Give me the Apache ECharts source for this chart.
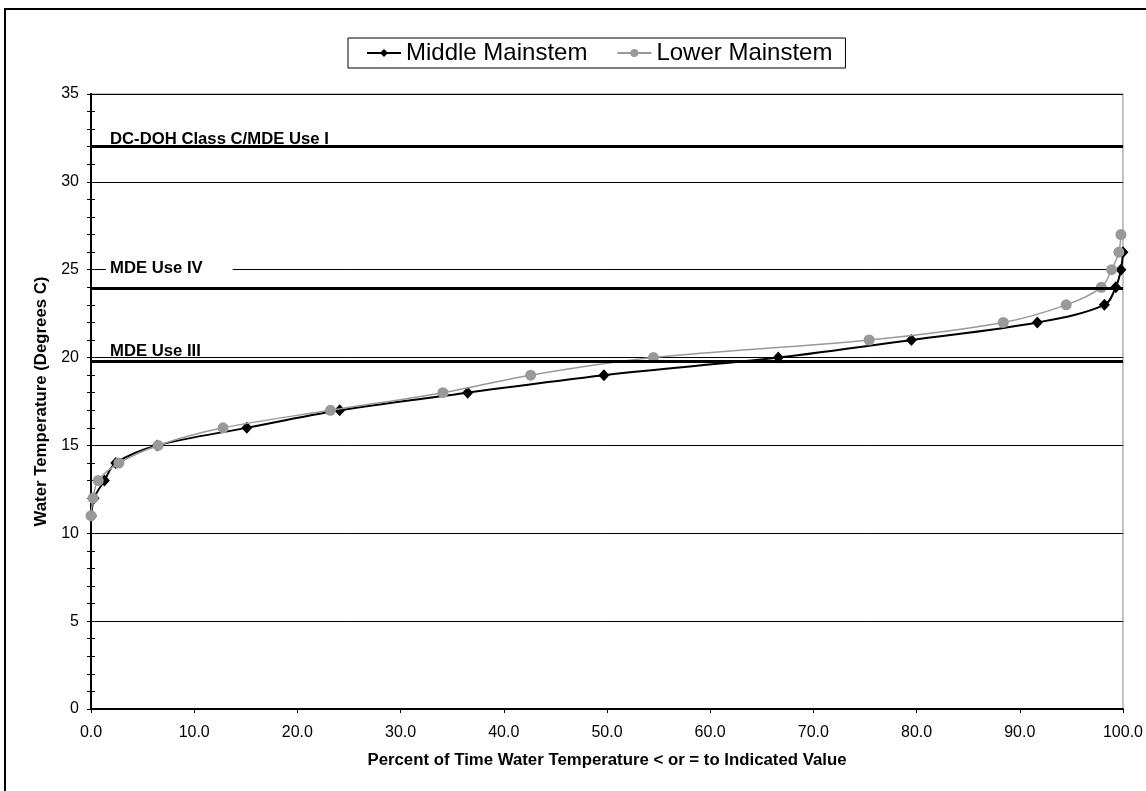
<!DOCTYPE html>
<html>
<head>
<meta charset="utf-8">
<script src="https://cdn.jsdelivr.net/npm/echarts@6/dist/echarts.min.js"></script>
<style>
html,body{margin:0;padding:0;background:#fff;}
#chart{width:1146px;height:791px;}
</style>
</head>
<body>
<div id="chart"></div>
<script>
// ---- data ----
const seriesNames = ['Middle Mainstem', 'Lower Mainstem'];
const middleTemp = [11, 12, 13, 14, 15, 16, 17, 18, 19, 20, 21, 22, 23, 24, 25, 26];
const middlePct  = [0.05, 0.3, 1.3, 2.4, 6.4, 15.1, 24.1, 36.5, 49.7, 66.6, 79.5, 91.7, 98.2, 99.3, 99.8, 100.0];
const lowerTemp  = [11, 12, 13, 14, 15, 16, 17, 18, 19, 20, 21, 22, 23, 24, 25, 26, 27];
const lowerPct   = [0.0, 0.2, 0.7, 2.7, 6.5, 12.8, 23.2, 34.1, 42.6, 54.5, 75.4, 88.4, 94.5, 97.9, 98.9, 99.6, 99.8];
const criteriaNames  = ['DC-DOH Class C/MDE Use I', 'MDE Use IV', 'MDE Use III'];
const criteriaValues = [32, 23.95, 19.8];
const xTicks = [0, 10, 20, 30, 40, 50, 60, 70, 80, 90, 100];
const yTicks = [0, 5, 10, 15, 20, 25, 30, 35];

const xTitle = 'Percent of Time Water Temperature < or = to Indicated Value';
const yTitle = 'Water Temperature (Degrees C)';

function pairs(xs, ys) { return xs.map((x, i) => [x, ys[i]]); }

const font = 'Liberation Sans, Arial, sans-serif';

const labelStyles = [
  { distance: [19, -1], padding: 0 },
  { distance: [15, 9], padding: [2, 30, 2, 4], backgroundColor: '#fff' },
  { distance: [19, 1], padding: 0 }
];

const markData = criteriaValues.map((v, i) => {
  const ls = labelStyles[i];
  return [
    {
      coord: [xTicks[0], v],
      label: Object.assign({
        show: true,
        position: 'insideStartTop',
        formatter: criteriaNames[i],
        color: '#000',
        fontWeight: 'bold',
        fontSize: 16.7,
        fontFamily: font
      }, ls)
    },
    { coord: [xTicks[xTicks.length - 1], v] }
  ];
});

const chart = echarts.init(document.getElementById('chart'), null, { renderer: 'canvas' });
chart.setOption({
  animation: false,
  backgroundColor: '#fff',
  textStyle: { fontFamily: font, color: '#000' },
  graphic: [{
    type: 'rect',
    shape: { x: 5, y: 9, width: 1160, height: 800 },
    style: { fill: 'none', stroke: '#000', lineWidth: 2 },
    silent: true
  }],
  legend: {
    left: 348, top: 38,
    padding: [3, 13, 3, 18],
    itemGap: 29,
    itemWidth: 34,
    itemHeight: 10,
    borderColor: '#000', borderWidth: 1,
    backgroundColor: '#fff',
    textStyle: { fontSize: 24, color: '#000', fontFamily: font },
    data: seriesNames
  },
  grid: {
    left: 91, right: 19, top: 94, bottom: 82,
    show: true, borderColor: '#888', borderWidth: 1, backgroundColor: 'transparent'
  },
  xAxis: {
    type: 'value', min: 0, max: 100, interval: 10,
    name: xTitle, nameLocation: 'middle', nameGap: 43,
    nameTextStyle: { fontSize: 16.8, fontWeight: 'bold', color: '#000', fontFamily: font },
    axisLine: { show: true, onZero: false, lineStyle: { color: '#000', width: 2 } },
    axisTick: { show: true, length: 4, lineStyle: { color: '#000' } },
    axisLabel: { fontSize: 16, color: '#000', margin: 16, formatter: v => v.toFixed(1) },
    splitLine: { show: false }
  },
  yAxis: [{
    type: 'value', min: 0, max: 35, interval: 5,
    name: yTitle, nameLocation: 'middle', nameGap: 39,
    nameTextStyle: { fontSize: 16.8, fontWeight: 'bold', color: '#000', fontFamily: font },
    axisLine: { show: true, onZero: false, lineStyle: { color: '#000', width: 2 } },
    axisTick: { show: true, length: 4, lineStyle: { color: '#000' } },
    minorTick: { show: true, splitNumber: 5, length: 4, lineStyle: { color: '#000' } },
    axisLabel: { fontSize: 16, color: '#000', margin: 12 },
    splitLine: { show: true, lineStyle: { color: '#000', width: 1 } }
  }, {
    type: 'value', min: 0, max: 35, interval: 5, position: 'left', offset: 0,
    axisLine: { show: true, onZero: false, lineStyle: { color: '#000', width: 2 } },
    axisTick: { show: true, inside: true, length: 4, lineStyle: { color: '#000' } },
    minorTick: { show: true, splitNumber: 5, length: 4, lineStyle: { color: '#000' } },
    axisLabel: { show: false },
    splitLine: { show: false }
  }],
  series: [{
    name: seriesNames[0],
    type: 'line',
    data: pairs(middlePct, middleTemp),
    smooth: 0.35,
    symbol: 'diamond',
    symbolSize: [11, 12],
    color: '#000',
    lineStyle: { color: '#000', width: 2 },
    itemStyle: { color: '#000' },
    z: 3,
    markLine: {
      silent: true,
      symbol: 'none',
      lineStyle: { color: '#000', width: 3, type: 'solid' },
      emphasis: { disabled: true },
      data: markData
    }
  }, {
    name: seriesNames[1],
    type: 'line',
    data: pairs(lowerPct, lowerTemp),
    smooth: 0.35,
    symbol: 'circle',
    symbolSize: 11,
    color: '#999',
    lineStyle: { color: '#999', width: 1.5 },
    itemStyle: { color: '#999' },
    z: 4
  }]
});
</script>
</body>
</html>
